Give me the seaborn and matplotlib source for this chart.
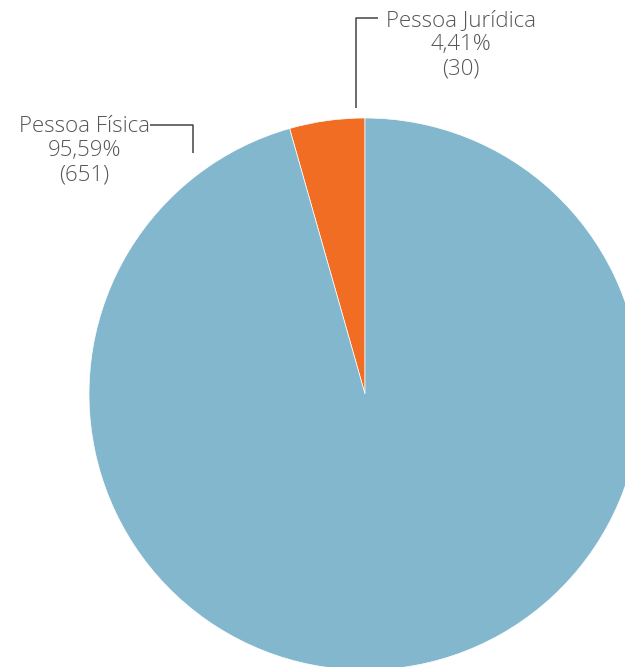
import matplotlib
matplotlib.use("Agg")
import matplotlib.pyplot as plt
import seaborn as sns

sns.set_theme(style="white")
plt.rcParams["font.family"] = ["Open Sans", "DejaVu Sans"]

categories = ["Pessoa Jurídica", "Pessoa Física"]
counts = [30, 651]
percents = ["4,41%", "95,59%"]
colors = ["#F06D23", "#82B7CD"]

W, H = 625, 667
fig = plt.figure(figsize=(W / 100, H / 100), dpi=100)
ax = fig.add_axes([0, 0, 1, 1])

# pie geometry in pixels: centre and radius
cx, cy, r = 365, 394, 276
ax.pie(counts, colors=colors, startangle=90, counterclock=True, radius=1,
       wedgeprops=dict(edgecolor="white", linewidth=0.5))
ax.set_xlim(-cx / r, (W - cx) / r)
ax.set_ylim(-(H - cy) / r, cy / r)
ax.set_aspect("auto")
ax.axis("off")


def px(x, y):
    return (x - cx) / r, (cy - y) / r


text_color = "#555555"
line_color = "#444444"

# connector lines
for pts in ([(356, 108), (356, 18), (378, 18)],
            [(193, 153), (193, 125), (150, 125)]):
    xs, ys = zip(*[px(x, y) for x, y in pts])
    ax.plot(xs, ys, color=line_color, lw=1.1, solid_capstyle="butt")

label_pos = {0: (461, 45), 1: (84, 151)}
for i, cat in enumerate(categories):
    x, y = px(*label_pos[i])
    ax.text(x, y, f"{cat}\n{percents[i]}\n({counts[i]})", ha="center", va="center",
            fontsize=16, color=text_color, fontweight="light", linespacing=1.2)

fig.savefig("out.png", dpi=100)
